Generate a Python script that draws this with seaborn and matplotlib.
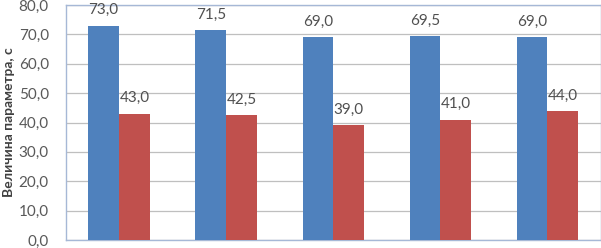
import matplotlib
matplotlib.use("Agg")
import matplotlib.pyplot as plt
import seaborn as sns
import pandas as pd

categories = ["1", "2", "3", "4", "5"]
series_names = ["Серия 1", "Серия 2"]
series1 = [73.0, 71.5, 69.0, 69.5, 69.0]
series2 = [43.0, 42.5, 39.0, 41.0, 44.0]
yticks = [0, 10, 20, 30, 40, 50, 60, 70, 80]

df = pd.DataFrame({
    "cat": categories * 2,
    "series": [series_names[0]] * 5 + [series_names[1]] * 5,
    "value": series1 + series2,
})

sns.set_theme(style="white")
plt.rcParams['font.family'] = ['Lato', 'DejaVu Sans']

fig = plt.figure(figsize=(6.01, 2.48), dpi=100)
ax = fig.add_axes([65.5 / 601, 8 / 248, 535.5 / 601, 235 / 248])

sns.barplot(data=df, x="cat", y="value", hue="series", ax=ax,
            palette=["#4F81BD", "#C0504D"], width=0.574, saturation=1,
            legend=False, zorder=3)

for p in ax.patches:
    p.set_edgecolor("none")

for cont in ax.containers:
    ax.bar_label(cont, labels=[f"{v:.1f}".replace(".", ",") for v in cont.datavalues],
                 padding=6, fontsize=11, color="#505050")

ax.set_ylim(0, 80)
ax.set_xlim(-0.5, 4.5)
ax.set_yticks(yticks)
ax.set_yticklabels([f"{t:.1f}".replace(".", ",") for t in yticks], fontsize=11, color="#595959")
ax.tick_params(axis="y", length=0, pad=12)
ax.tick_params(axis="x", length=0, labelbottom=False)
ax.grid(axis="y", color="#BFBFBF", linewidth=0.9, zorder=0)
ax.set_axisbelow(True)
for s in ax.spines.values():
    s.set_color("#A6B8D6")
    s.set_linewidth(1.0)
ax.set_xlabel("")
ax.set_ylabel("Величина параметра, с", fontsize=10, fontweight="bold", color="#404040", labelpad=3)

fig.savefig("out.png", dpi=100)
